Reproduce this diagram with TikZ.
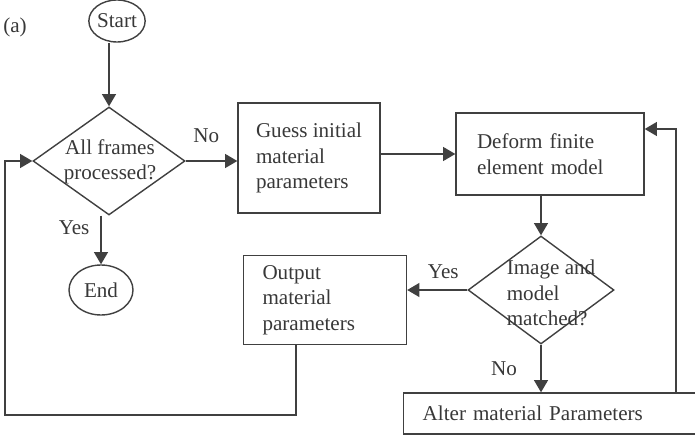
\documentclass[tikz,border=0pt]{standalone}
\usepackage{fontspec}
\setmainfont{Liberation Serif}
\usetikzlibrary{shapes.geometric,arrows.meta}

\begin{document}
\begin{tikzpicture}[x=0.02cm,y=-0.02cm,
  font=\fontsize{12}{14.5}\selectfont,
  every node/.style={text=black!78},
  line/.style={draw=black!75,line width=0.8pt},
  flow/.style={line,-{Triangle[length=7pt,width=8pt]}},
  terminal/.style={line,ellipse,inner sep=0pt},
  decision/.style={line,diamond,inner sep=0pt},
  process/.style={line,rectangle,align=left,inner xsep=0.42cm,inner ysep=0pt}]

\useasboundingbox (0,0) rectangle (695,435);
\clip (0,0) rectangle (695,435);

\node at (15,27) {(a)};

% left column
\node[terminal,minimum width=1.08cm,minimum height=0.84cm] (start) at (117,21) {Start};
\node[decision,minimum width=3.04cm,minimum height=2.16cm] (frames) at (109,161) {};
\node[align=center] (framestext) at (110,162) {All frames\\processed?};
\node[terminal,minimum width=1.28cm,minimum height=1cm] (done) at (101,290) {End};

% boxes on the right
\node[process,inner xsep=0.3cm,minimum width=2.84cm,minimum height=2.2cm] (guess) at (309,158) {Guess initial\\material\\parameters};
\node[process,text width=2.92cm,minimum height=1.64cm] (deform) at (550,154) {Deform finite\\element model};
\node[decision,minimum width=2.92cm,minimum height=2.16cm] (match) at (541,290) {};
\node[align=left] (matchtext) at (551,293) {Image and\\model\\matched?};
\node[process,inner xsep=0.38cm,text width=2.5cm,minimum height=1.78cm] (output) at (325,300) {Output\\material\\parameters};
\node[process,anchor=west,inner xsep=0.38cm,text width=5.6cm,minimum height=0.82cm] (alter) at (403,413.5) {Alter material Parameters};

% connectors
\draw[flow] (frames.north |- start.south) -- (frames.north);
\draw[flow] (frames.east) -- node[pos=0.4,above=2.3mm] {No} (frames.east -| guess.west);
\draw[flow] (frames.south -| done.north) -- node[pos=0.25,left=1mm] {Yes} (done);
\draw[flow] (guess.east |- deform.west) -- (deform.west);
\draw[flow] (match.north |- deform.south) -- (match.north);
\draw[flow] (match.west) -- node[pos=0.4,above=1mm] {Yes} (match.west -| output.east);
\draw[flow] (match.south) -- node[left=3.5mm] {No} (match.south |- alter.north);

% feedback lines
\coordinate (retbot) at (5,415);
\coordinate (loopx) at (676,129);
\draw[flow] ([xshift=-0.58cm]output.south) |- (retbot) |- (frames.west);
\draw[flow] (loopx |- alter.north) |- (deform.east |- loopx);

\end{tikzpicture}
\end{document}
